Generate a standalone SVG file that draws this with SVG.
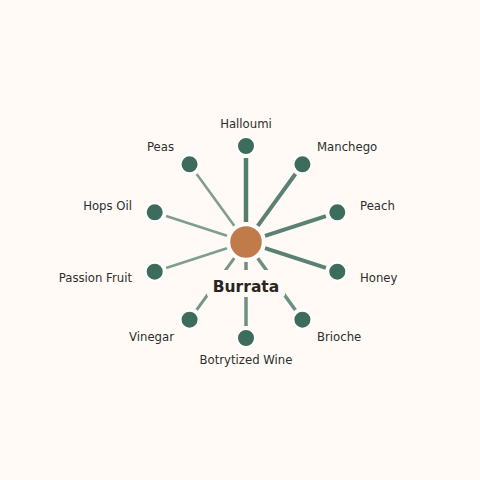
<svg xmlns="http://www.w3.org/2000/svg" width="480" height="480" viewBox="0 0 480 480">
<style>
.bg{fill:#fffaf6}
.edge{stroke:#3d6b5c;stroke-linecap:butt;fill:none}
.e1{stroke-width:4.5;stroke-opacity:0.88}
.e2{stroke-width:4;stroke-opacity:0.85}
.e3{stroke-width:3.5;stroke-opacity:0.75}
.e4{stroke-width:3;stroke-opacity:0.7}
.e5{stroke-width:2.6;stroke-opacity:0.65}
.node{fill:#3d6b5c;stroke:#ffffff;stroke-width:2}
.hub{fill:#c17a4a;stroke:#ffffff;stroke-width:2.5}
.lbl{font-family:"DejaVu Sans",sans-serif;font-size:11.7px;fill:#2e2e2e}
.hubl{font-family:"DejaVu Sans",sans-serif;font-size:15.5px;font-weight:bold;fill:#2a2520}
</style>
<rect class="bg" x="0" y="0" width="480" height="480"/>
<g id="connectors">
<line class="edge e1" x1="246" y1="222" x2="246" y2="158"/>
<line class="edge e2" x1="257.76" y1="225.82" x2="295.37" y2="174.04"/>
<line class="edge e2" x1="265.02" y1="235.82" x2="325.89" y2="216.04"/>
<line class="edge e2" x1="265.02" y1="248.18" x2="325.89" y2="267.96"/>
<line class="edge e3" x1="257.76" y1="258.18" x2="295.37" y2="309.96"/>
<line class="edge e3" x1="246" y1="262" x2="246" y2="326"/>
<line class="edge e4" x1="234.24" y1="258.18" x2="196.63" y2="309.96"/>
<line class="edge e5" x1="226.98" y1="248.18" x2="166.11" y2="267.96"/>
<line class="edge e5" x1="226.98" y1="235.82" x2="166.11" y2="216.04"/>
<line class="edge e5" x1="234.24" y1="225.82" x2="196.63" y2="174.04"/>
</g>
<g id="n-halloumi"><circle class="node" cx="246" cy="146" r="9"/><text class="lbl" x="246" y="128" text-anchor="middle">Halloumi</text></g>
<g id="n-manchego"><circle class="node" cx="302.43" cy="164.33" r="9"/><text class="lbl" x="317" y="150.5">Manchego</text></g>
<g id="n-peach"><circle class="node" cx="337.3" cy="212.33" r="9"/><text class="lbl" x="360" y="210">Peach</text></g>
<g id="n-honey"><circle class="node" cx="337.3" cy="271.67" r="9"/><text class="lbl" x="360" y="282">Honey</text></g>
<g id="n-brioche"><circle class="node" cx="302.43" cy="319.67" r="9"/><text class="lbl" x="317" y="341">Brioche</text></g>
<g id="n-botrytized"><circle class="node" cx="246" cy="338" r="9"/><text class="lbl" x="246" y="364" text-anchor="middle">Botrytized Wine</text></g>
<g id="n-vinegar"><circle class="node" cx="189.57" cy="319.67" r="9"/><text class="lbl" x="174" y="341" text-anchor="end">Vinegar</text></g>
<g id="n-passion"><circle class="node" cx="154.7" cy="271.67" r="9"/><text class="lbl" x="132" y="282" text-anchor="end">Passion Fruit</text></g>
<g id="n-hops"><circle class="node" cx="154.7" cy="212.33" r="9"/><text class="lbl" x="132" y="210" text-anchor="end">Hops Oil</text></g>
<g id="n-peas"><circle class="node" cx="189.57" cy="164.33" r="9"/><text class="lbl" x="174" y="151" text-anchor="end">Peas</text></g>
<g id="n-burrata">
<circle class="hub" cx="246" cy="242" r="17"/>
<rect class="bg" x="207" y="270" width="78" height="27" rx="3"/>
<text class="hubl" x="246" y="291.5" text-anchor="middle">Burrata</text>
</g>
</svg>
